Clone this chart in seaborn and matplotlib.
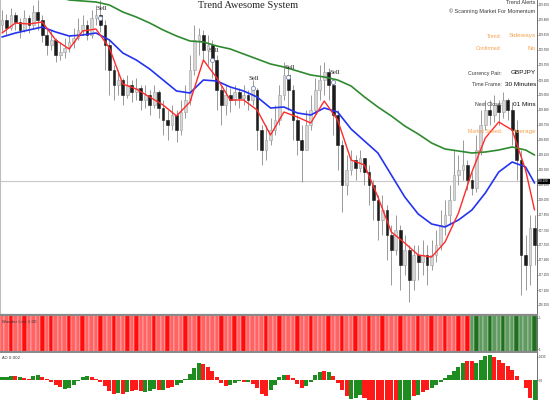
import numpy as np
import pandas as pd
import matplotlib
matplotlib.use("Agg")
import matplotlib.pyplot as plt
import seaborn as sns

# --- GBPJPY 30 min bars ---
first_open = 179.75
close = [179.80, 179.72, 179.85, 179.78, 179.70, 179.82, 179.75, 179.88, 179.80, 179.65,
         179.55, 179.60, 179.45, 179.48, 179.52, 179.58, 179.62, 179.70, 179.75, 179.65,
         179.82, 179.85, 179.75, 179.55, 179.30, 179.15, 179.20, 179.05, 179.15, 179.08,
         179.12, 179.00, 179.05, 178.95, 179.08, 178.92, 178.80, 178.75, 178.85, 178.70,
         178.88, 179.00, 179.30, 179.60, 179.65, 179.50, 179.55, 179.40, 179.10, 178.95,
         179.05, 179.00, 179.08, 179.02, 179.05, 179.00, 179.10, 178.70, 178.50, 178.60,
         178.70, 178.80, 179.05, 179.25, 179.10, 178.80, 178.60, 178.50, 178.75, 178.90,
         179.10, 179.20, 179.28, 179.15, 178.85, 178.55, 178.15, 178.30, 178.40, 178.32,
         178.42, 178.28, 178.15, 178.00, 177.80, 177.90, 177.65, 177.50, 177.70, 177.35,
         177.50, 177.20, 177.45, 177.38, 177.45, 177.35, 177.45, 177.55, 177.75, 177.85,
         178.00, 178.25, 178.30, 178.35, 178.20, 178.12, 178.50, 178.75, 178.90, 178.85,
         178.95, 178.88, 179.00, 178.90, 178.70, 178.40, 177.45, 177.35, 177.72, 177.55]
high = [179.90, 179.86, 179.92, 179.88, 179.82, 179.90, 179.85, 179.95, 180.00, 179.85,
        179.72, 179.70, 179.62, 179.58, 179.62, 179.65, 179.72, 179.82, 179.85, 179.80,
        179.90, 179.95, 180.00, 179.80, 179.60, 179.35, 179.30, 179.22, 179.25, 179.20,
        179.22, 179.15, 179.15, 179.10, 179.15, 179.10, 179.00, 178.90, 178.95, 178.90,
        179.00, 179.15, 179.45, 179.75, 179.72, 179.70, 179.65, 179.60, 179.45, 179.15,
        179.15, 179.12, 179.15, 179.12, 179.15, 179.10, 179.20, 179.12, 178.75, 178.75,
        178.82, 178.95, 179.15, 179.38, 179.32, 179.15, 178.85, 178.75, 178.90, 179.05,
        179.22, 179.35, 179.38, 179.32, 179.20, 178.90, 178.60, 178.45, 178.50, 178.45,
        178.50, 178.40, 178.35, 178.20, 178.05, 178.05, 177.95, 177.75, 177.85, 177.75,
        177.65, 177.55, 177.55, 177.55, 177.60, 177.55, 177.60, 177.70, 177.90, 178.00,
        178.15, 178.50, 178.45, 178.60, 178.40, 178.28, 178.65, 178.90, 179.00, 179.00,
        179.05, 179.00, 179.08, 179.02, 178.98, 178.80, 178.50, 177.65, 177.85, 177.85]
low = [179.68, 179.65, 179.70, 179.70, 179.62, 179.68, 179.67, 179.72, 179.70, 179.58,
       179.45, 179.50, 179.38, 179.40, 179.42, 179.48, 179.52, 179.60, 179.65, 179.60,
       179.62, 179.75, 179.68, 179.30, 179.05, 179.00, 179.05, 178.95, 179.02, 178.98,
       179.00, 178.90, 178.92, 178.85, 178.92, 178.82, 178.65, 178.60, 178.70, 178.58,
       178.65, 178.82, 178.95, 179.25, 179.45, 179.40, 179.35, 179.22, 178.90, 178.75,
       178.85, 178.88, 178.95, 178.92, 178.95, 178.90, 178.95, 178.50, 178.35, 178.40,
       178.55, 178.65, 178.75, 179.00, 178.90, 178.60, 178.45, 178.18, 178.50, 178.70,
       178.85, 179.00, 179.05, 179.00, 178.65, 178.30, 177.88, 178.05, 178.25, 178.20,
       178.28, 178.15, 177.95, 177.80, 177.60, 177.65, 177.40, 177.15, 177.45, 177.10,
       177.25, 176.98, 177.10, 177.20, 177.25, 177.15, 177.30, 177.38, 177.50, 177.65,
       177.75, 178.00, 178.15, 178.20, 178.10, 178.05, 178.08, 178.45, 178.70, 178.75,
       178.78, 178.75, 178.82, 178.80, 178.55, 178.20, 177.05, 177.10, 177.15, 177.35]

# moving averages, sampled every few bars
ma_bar = [0, 3, 6, 9, 12, 15, 18, 21, 24, 27, 30, 33, 36, 39, 42, 45, 48, 51, 54, 57,
          60, 63, 66, 69, 72, 75, 78, 81, 84, 87, 90, 93, 96, 99, 102, 105, 108, 111, 114, 117, 119]
ma_fast = [179.67, 179.77, 179.76, 179.78, 179.60, 179.51, 179.69, 179.71, 179.52, 179.16,
           179.11, 179.03, 178.95, 178.84, 178.98, 179.40, 179.22, 179.00, 179.00, 178.90,
           178.65, 178.88, 178.83, 178.77, 178.99, 178.80, 178.40, 178.35, 178.03, 177.68,
           177.57, 177.45, 177.43, 177.58, 177.87, 178.28, 178.62, 178.78, 178.70, 178.30, 177.90]
ma_mid = [179.63, 179.67, 179.70, 179.73, 179.68, 179.64, 179.65, 179.67, 179.60, 179.47,
          179.40, 179.31, 179.20, 179.09, 179.07, 179.20, 179.19, 179.13, 179.09, 179.03,
          178.92, 178.93, 178.87, 178.85, 178.92, 178.88, 178.71, 178.59, 178.47, 178.25,
          178.03, 177.86, 177.76, 177.73, 177.80, 177.90, 178.07, 178.28, 178.38, 178.33, 178.17]
ma_slow = [180.25, 180.20, 180.14, 180.09, 180.04, 180.00, 179.99, 179.98, 179.95, 179.88,
           179.83, 179.77, 179.70, 179.64, 179.59, 179.58, 179.54, 179.51, 179.46, 179.41,
           179.36, 179.33, 179.29, 179.25, 179.23, 179.20, 179.14, 179.03, 178.93, 178.84,
           178.74, 178.66, 178.57, 178.51, 178.49, 178.47, 178.48, 178.50, 178.53, 178.50, 178.45]

sell_bar = [22, 47, 56, 64, 74]
sell_price = [179.82, 179.40, 179.12, 179.23, 179.18]
bid_price = 178.19

# trend strip: l = weak, d = strong
strip = ("lldlldllld" "ldllldlldl" "lldlldlldl" "dllldlldll" "ldlldlllld"
         "lldldlllld" "lldllldlld" "llldlldlld" "lldlldllld" "llldlldlld" "lldld")
strip_green = "ldlldlldlldllld"

# awesome oscillator (points) and bar colours
ao_points = [3, 3, 4, 4, 3, 2, 1, 4, 5, 3,
             1, -2, -5, -7, -9, -8, -5, -1, 3, 4,
             3, 1, -2, -6, -11, -14, -13, -14, -12, -11,
             -10, -11, -12, -11, -9, -10, -10, -8, -7, -5,
             -3, 1, 6, 12, 17, 16, 13, 9, 3, -3,
             -6, -5, -3, -1, -2, -2, -4, -8, -14, -16,
             -10, -5, 3, 5, 5, 2, -4, -8, -6, -2,
             5, 8, 9, 8, 4, -3, -10, -16, -19, -18,
             -15, -18, -20, -21, -21, -20, -21, -21, -20, -20,
             -21, -20, -16, -15, -12, -10, -8, -5, -2, 2,
             5, 9, 13, 17, 19, 19, 17, 20, 24, 25,
             23, 20, 17, 14, 10, 4, 0, -8, -18, -20]
ao_col = ("gggrgrrggr" "rrrrgggggg" "rrrrrrgrgr" "rrgggrgrrg" "gggggrrrrr" "rgggrgrrrr"
          "ggggrrrrgg" "ggrgrrrrgg" "grrrrrrrrg" "ggrgrrgggg" "ggggrrgggg" "rrrrrrrrrg")

sns.set_theme(style="white")
plt.rcParams["font.family"] = ["DejaVu Sans"]

df = pd.DataFrame({"close": close, "high": high, "low": low})
df["open"] = [first_open] + close[:-1]
df["bar"] = np.arange(len(df))
ma = pd.DataFrame({"bar": ma_bar, "fast": ma_fast, "mid": ma_mid, "slow": ma_slow})

fig = plt.figure(figsize=(5.5, 4), dpi=100)
W = 537 / 550
ax = fig.add_axes([0, 1 - 313 / 400, W, 313 / 400])
ax_sig = fig.add_axes([0, 1 - 352 / 400, W, 37 / 400])
ax_ao = fig.add_axes([0, 0, W, 47 / 400])
xlim = (-0.45, 119.55)
tick_kw = dict(axis="y", length=0.8, width=0.4, pad=0.3, labelsize=2.2, labelcolor="#333333",
               labelfontfamily="Liberation Sans")

# candles
up = df["close"] >= df["open"]
lo = np.minimum(df["low"], np.minimum(df["open"], df["close"]))
hi = np.maximum(df["high"], np.maximum(df["open"], df["close"]))
ax.vlines(df["bar"], lo, hi, color="#999999", lw=0.7, zorder=2)
body_lo = np.minimum(df["open"], df["close"])
body_h = np.maximum(np.abs(df["close"] - df["open"]), 0.01)
ax.bar(df["bar"][up], body_h[up], bottom=body_lo[up], width=0.6,
       color="#d6d6d6", edgecolor="#a0a0a0", lw=0.4, zorder=3)
ax.bar(df["bar"][~up], body_h[~up], bottom=body_lo[~up], width=0.6,
       color="#1c1c1c", edgecolor="#1c1c1c", lw=0.4, zorder=3)

ax.axhline(bid_price, color="#c8c8c8", lw=0.8, zorder=1)

sns.lineplot(data=ma, x="bar", y="slow", color="#2f8a2f", lw=1.2, ax=ax, zorder=4)
sns.lineplot(data=ma, x="bar", y="mid", color="#2433f0", lw=1.2, ax=ax, zorder=5)
sns.lineplot(data=ma, x="bar", y="fast", color="#ff2a2a", lw=1.0, ax=ax, zorder=6)

ax.scatter(sell_bar, sell_price, s=9, facecolors="white", edgecolors="#7b8bb0", lw=0.6, zorder=7)
for b, p in zip(sell_bar, sell_price):
    ax.annotate("Sell", (b, p), xytext=(1, 7), textcoords="offset points", ha="center",
                va="center", fontsize=5, family="Liberation Serif", color="#222222", zorder=8)

ax.set_xlim(*xlim)
ax.set_ylim(176.87, 180.00)
ax.set_xlabel("")
ax.set_ylabel("")
ax.set_xticks([])
ticks = np.round(np.arange(176.95, 180.0, 0.15), 3)
ax.yaxis.tick_right()
ax.set_yticks(ticks)
ax.set_yticklabels([f"{t:.3f}" for t in ticks])
ax.tick_params(**tick_kw)
ax.text(1.002, bid_price, f"{bid_price:.3f}", transform=ax.get_yaxis_transform(), fontsize=2.1,
        family="Liberation Sans", color="white", va="center", ha="left",
        bbox=dict(boxstyle="square,pad=0.15", fc="black", ec="black"))
for s in ["top", "bottom"]:
    ax.spines[s].set_visible(False)
ax.spines["left"].set_color("#bdbdbd")
ax.spines["left"].set_linewidth(0.8)
ax.spines["right"].set_color("#555555")
ax.spines["right"].set_linewidth(0.6)

# trend strip
cmap = {"l": "#ff6363", "d": "#ff0d0d"}
gmap = {"l": "#5f9a5f", "d": "#1f6f1f"}
cols = [cmap[c] for c in strip] + [gmap[c] for c in strip_green]
ax_sig.bar(np.arange(len(cols)), 1, width=1.0, color=cols, edgecolor="white", lw=0.25)
ax_sig.set_xlim(*xlim)
ax_sig.set_ylim(0, 1)
ax_sig.set_xticks([])
ax_sig.yaxis.tick_right()
ax_sig.set_yticks([0.08, 0.92])
ax_sig.set_yticklabels(["1", "1"])
ax_sig.tick_params(**tick_kw)
for s in ["top", "bottom"]:
    ax_sig.spines[s].set_color("#8a8a8a")
    ax_sig.spines[s].set_linewidth(1.6)
ax_sig.spines["left"].set_visible(False)
ax_sig.spines["right"].set_color("#555555")
ax_sig.spines["right"].set_linewidth(0.6)
ax_sig.text(0.003, 0.8, "Wonder Line 1.00", transform=ax_sig.transAxes, fontsize=2.8,
            color="#333333", va="center")

# awesome oscillator
acol = ["#1e8c1e" if c == "g" else "#ff1a1a" for c in ao_col]
ax_ao.bar(np.arange(len(ao_points)), ao_points, width=0.9, color=acol, lw=0)
ax_ao.set_xlim(*xlim)
ax_ao.set_ylim(-20, 27)
ax_ao.set_xticks([])
ax_ao.yaxis.tick_right()
ax_ao.set_yticks([0, 23])
ax_ao.set_yticklabels(["0.0", "1.033"])
ax_ao.tick_params(**tick_kw)
for s in ["top", "bottom", "left"]:
    ax_ao.spines[s].set_visible(False)
ax_ao.spines["right"].set_color("#555555")
ax_ao.spines["right"].set_linewidth(0.6)
ax_ao.text(0.003, 0.9, "AO 0.002", transform=ax_ao.transAxes, fontsize=2.8,
           color="#333333", va="center")

# title and info panel
def fx(x):
    return x / 550

def fy(y):
    return 1 - y / 400

fig.text(fx(248), fy(6), "Trend Awesome System", ha="center", va="center",
         fontsize=7.5, family="Liberation Serif", color="#222222")
info_font = "Liberation Sans"
orange = "#f5a04e"
grey = "#3a3a3a"
fig.text(fx(535), fy(0.5), "Trend Alerts", ha="right", va="top", fontsize=4,
         family=info_font, color=grey)
fig.text(fx(535), fy(11), "\u00a9 Scanning Market For Momentum", ha="right", va="center",
         fontsize=4, family=info_font, color=grey)
rows = [(36, "Trend:", "Sideways", orange, orange),
        (48, "Confirmed:", "No", orange, orange),
        (73, "Currency Pair:", "GBPJPY", grey, "#111111"),
        (84, "Time Frame:", "30 Minutes", grey, "#111111"),
        (104, "Next Close:", "01 Mins", grey, "#111111"),
        (131, "Market Speed:", "Average", orange, orange)]
for y, lab, val, c1, c2 in rows:
    fig.text(fx(502), fy(y), lab, ha="right", va="center", fontsize=3.8,
             family=info_font, color=c1)
    fig.text(fx(536), fy(y), val, ha="right", va="center", fontsize=4.6,
             family=info_font, color=c2)

fig.savefig("out.png", dpi=100, facecolor="white")
